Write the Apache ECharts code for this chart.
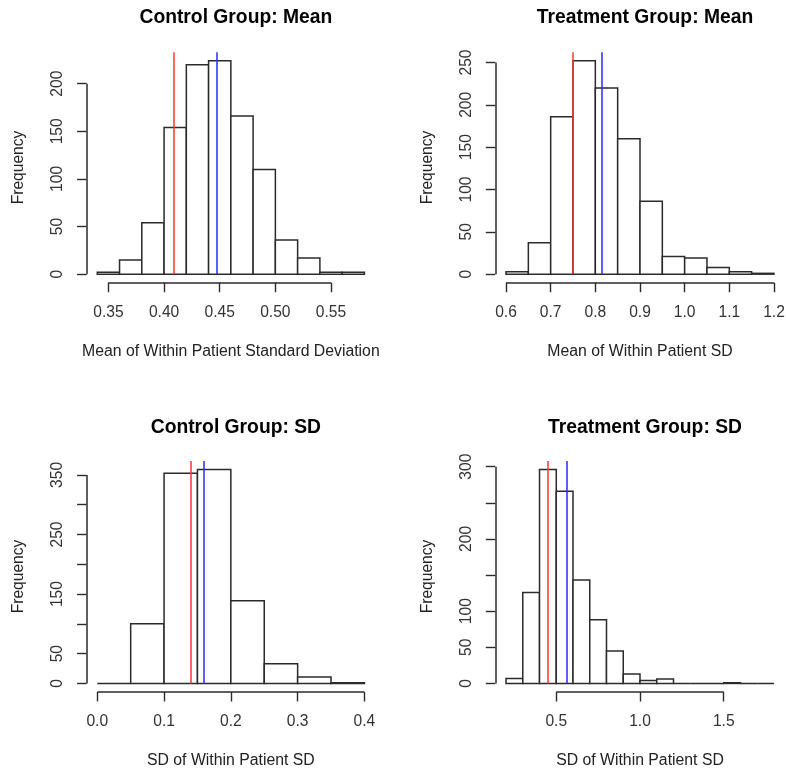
<!DOCTYPE html>
<html>
<head>
<meta charset="utf-8">
<script src="https://cdn.jsdelivr.net/npm/echarts@6/dist/echarts.min.js"></script>
<style>
html,body{margin:0;padding:0;background:#fff;}
#chart{width:786px;height:771px;}
</style>
</head>
<body>
<div id="chart"></div>
<script>
// ---- Data ----
const titles = ['Control Group: Mean', 'Treatment Group: Mean', 'Control Group: SD', 'Treatment Group: SD'];
const xNames = ['Mean of Within Patient Standard Deviation', 'Mean of Within Patient SD', 'SD of Within Patient SD', 'SD of Within Patient SD'];

const cmEdges = [0.34, 0.36, 0.38, 0.40, 0.42, 0.44, 0.46, 0.48, 0.50, 0.52, 0.54, 0.56, 0.58];
const cmCounts = [2, 15, 54, 154, 220, 224, 166, 110, 36, 17, 2, 2];
const cmRed = 0.409, cmBlue = 0.447;
const cmXTicks = [0.35, 0.40, 0.45, 0.50, 0.55];
const cmYTicks = [0, 50, 100, 150, 200];
const cmYLabels = [0, 50, 100, 150, 200];

const tmEdges = [0.60, 0.65, 0.70, 0.75, 0.80, 0.85, 0.90, 0.95, 1.00, 1.05, 1.10, 1.15, 1.20];
const tmCounts = [3, 37, 186, 252, 220, 160, 86, 21, 19, 8, 3, 1];
const tmRed = 0.750, tmBlue = 0.814;
const tmXTicks = [0.6, 0.7, 0.8, 0.9, 1.0, 1.1, 1.2];
const tmYTicks = [0, 50, 100, 150, 200, 250];
const tmYLabels = [0, 50, 100, 150, 200, 250];

const csEdges = [0.00, 0.05, 0.10, 0.15, 0.20, 0.25, 0.30, 0.35, 0.40];
const csCounts = [0, 100, 353, 359, 139, 33, 11, 1];
const csRed = 0.140, csBlue = 0.160;
const csXTicks = [0.0, 0.1, 0.2, 0.3, 0.4];
const csYTicks = [0, 50, 100, 150, 200, 250, 300, 350];
const csYLabels = [0, 50, 150, 250, 350];

const tsEdges = [0.2, 0.3, 0.4, 0.5, 0.6, 0.7, 0.8, 0.9, 1.0, 1.1, 1.2, 1.3, 1.4, 1.5, 1.6, 1.7, 1.8];
const tsCounts = [7, 126, 296, 266, 143, 88, 45, 13, 4, 6, 0, 0, 0, 1, 0, 0];
const tsRed = 0.450, tsBlue = 0.560;
const tsXTicks = [0.5, 1.0, 1.5];
const tsYTicks = [0, 50, 100, 150, 200, 250, 300];
const tsYLabels = [0, 50, 100, 200, 300];

const panels = [
  {edges: cmEdges, counts: cmCounts, red: cmRed, blue: cmBlue, xt: cmXTicks, yt: cmYTicks, yl: cmYLabels, dec: 2},
  {edges: tmEdges, counts: tmCounts, red: tmRed, blue: tmBlue, xt: tmXTicks, yt: tmYTicks, yl: tmYLabels, dec: 1},
  {edges: csEdges, counts: csCounts, red: csRed, blue: csBlue, xt: csXTicks, yt: csYTicks, yl: csYLabels, dec: 1},
  {edges: tsEdges, counts: tsCounts, red: tsRed, blue: tsBlue, xt: tsXTicks, yt: tsYTicks, yl: tsYLabels, dec: 1}
];

// ---- Layout ----
const gridBoxes = [
  {left: 86.6, top: 52.3, width: 288.5, height: 230.4},
  {left: 495.3, top: 52.3, width: 289.4, height: 230.4},
  {left: 86.6, top: 461, width: 288.5, height: 231},
  {left: 495.3, top: 461, width: 289.4, height: 231}
];
const titleTops = [3, 3, 413, 413];
const FONT = '"Liberation Sans", Arial, sans-serif';
const LINE = '#2b2b2b';

const option = {
  animation: false,
  backgroundColor: '#fff',
  title: [], grid: [], xAxis: [], yAxis: [], series: []
};

panels.forEach((p, i) => {
  const g = gridBoxes[i];
  const xlo = p.edges[0], xhi = p.edges[p.edges.length - 1];
  const xext = (xhi - xlo) * 0.04;
  const ymax = Math.max.apply(null, p.counts);
  const yext = ymax * 0.04;
  const xmin = xlo - xext, xmax = xhi + xext, ymin = -yext, ytop = ymax + yext;

  option.title.push({
    text: titles[i], left: g.left + g.width / 2, top: titleTops[i], textAlign: 'center',
    textStyle: {fontFamily: FONT, fontSize: 19.3, fontWeight: 'bold', color: '#000'}
  });
  option.grid.push(Object.assign({outerBoundsMode: 'none', containLabel: false}, g));
  option.xAxis.push({
    type: 'value', gridIndex: i, min: xmin, max: xmax, position: 'bottom',
    axisLine: {show: false, onZero: false}, splitLine: {show: false},
    axisTick: {show: true, customValues: p.xt, length: 9.5, lineStyle: {color: LINE, width: 1.4}},
    axisLabel: {show: true, customValues: p.xt, margin: 22, formatter: v => v.toFixed(p.dec),
      fontFamily: FONT, fontSize: 15.6, color: '#333'},
    name: xNames[i], nameLocation: 'middle', nameGap: 61,
    nameTextStyle: {fontFamily: FONT, fontSize: 15.8, color: '#222'}
  });
  option.yAxis.push({
    type: 'value', gridIndex: i, min: ymin, max: ytop, position: 'left',
    axisLine: {show: false, onZero: false}, splitLine: {show: false},
    axisTick: {show: true, customValues: p.yt, length: 9.5, lineStyle: {color: LINE, width: 1.4}},
    axisLabel: {show: true, customValues: p.yl, rotate: 90, margin: 21,
      fontFamily: FONT, fontSize: 15.6, color: '#333'},
    name: 'Frequency', nameLocation: 'middle', nameGap: 60, nameRotate: 90,
    nameTextStyle: {fontFamily: FONT, fontSize: 15.6, color: '#222'}
  });

  const bins = p.counts.map((c, k) => [p.edges[k], p.edges[k + 1], c]);
  option.series.push({
    type: 'custom', xAxisIndex: i, yAxisIndex: i, silent: true, clip: false,
    data: bins,
    renderItem: (params, api) => {
      const a = api.coord([api.value(0), 0]);
      const b = api.coord([api.value(1), api.value(2)]);
      return {type: 'rect', shape: {x: a[0], y: b[1], width: b[0] - a[0], height: a[1] - b[1]},
        style: {fill: '#fff', stroke: LINE, lineWidth: 1.5}};
    }
  });
  // axis lines (R style: span first to last tick) and reference lines
  const seg = (x1, y1, x2, y2) => [{coord: [x1, y1]}, {coord: [x2, y2]}];
  option.series.push({
    type: 'line', xAxisIndex: i, yAxisIndex: i, data: [], silent: true, clip: false,
    markLine: {
      silent: true, symbol: ['none', 'none'], label: {show: false}, animation: false,
      lineStyle: {type: 'solid', color: LINE, width: 1.5},
      data: [
        seg(p.xt[0], ymin, p.xt[p.xt.length - 1], ymin),
        seg(xmin, p.yt[0], xmin, p.yt[p.yt.length - 1])
      ]
    }
  });
  option.series.push({
    type: 'line', xAxisIndex: i, yAxisIndex: i, data: [], silent: true, clip: false,
    markLine: {
      silent: true, symbol: ['none', 'none'], label: {show: false}, animation: false,
      data: [
        seg(p.red, 0, p.red, ytop),
        seg(p.blue, 0, p.blue, ytop)
      ].map((d, k) => {
        d[0].lineStyle = {type: 'solid', color: k === 0 ? '#ff3535' : '#2a2aff', width: 1.5};
        return d;
      })
    }
  });
});

const chart = echarts.init(document.getElementById('chart'), null, {renderer: 'canvas'});
chart.setOption(option);
</script>
</body>
</html>
